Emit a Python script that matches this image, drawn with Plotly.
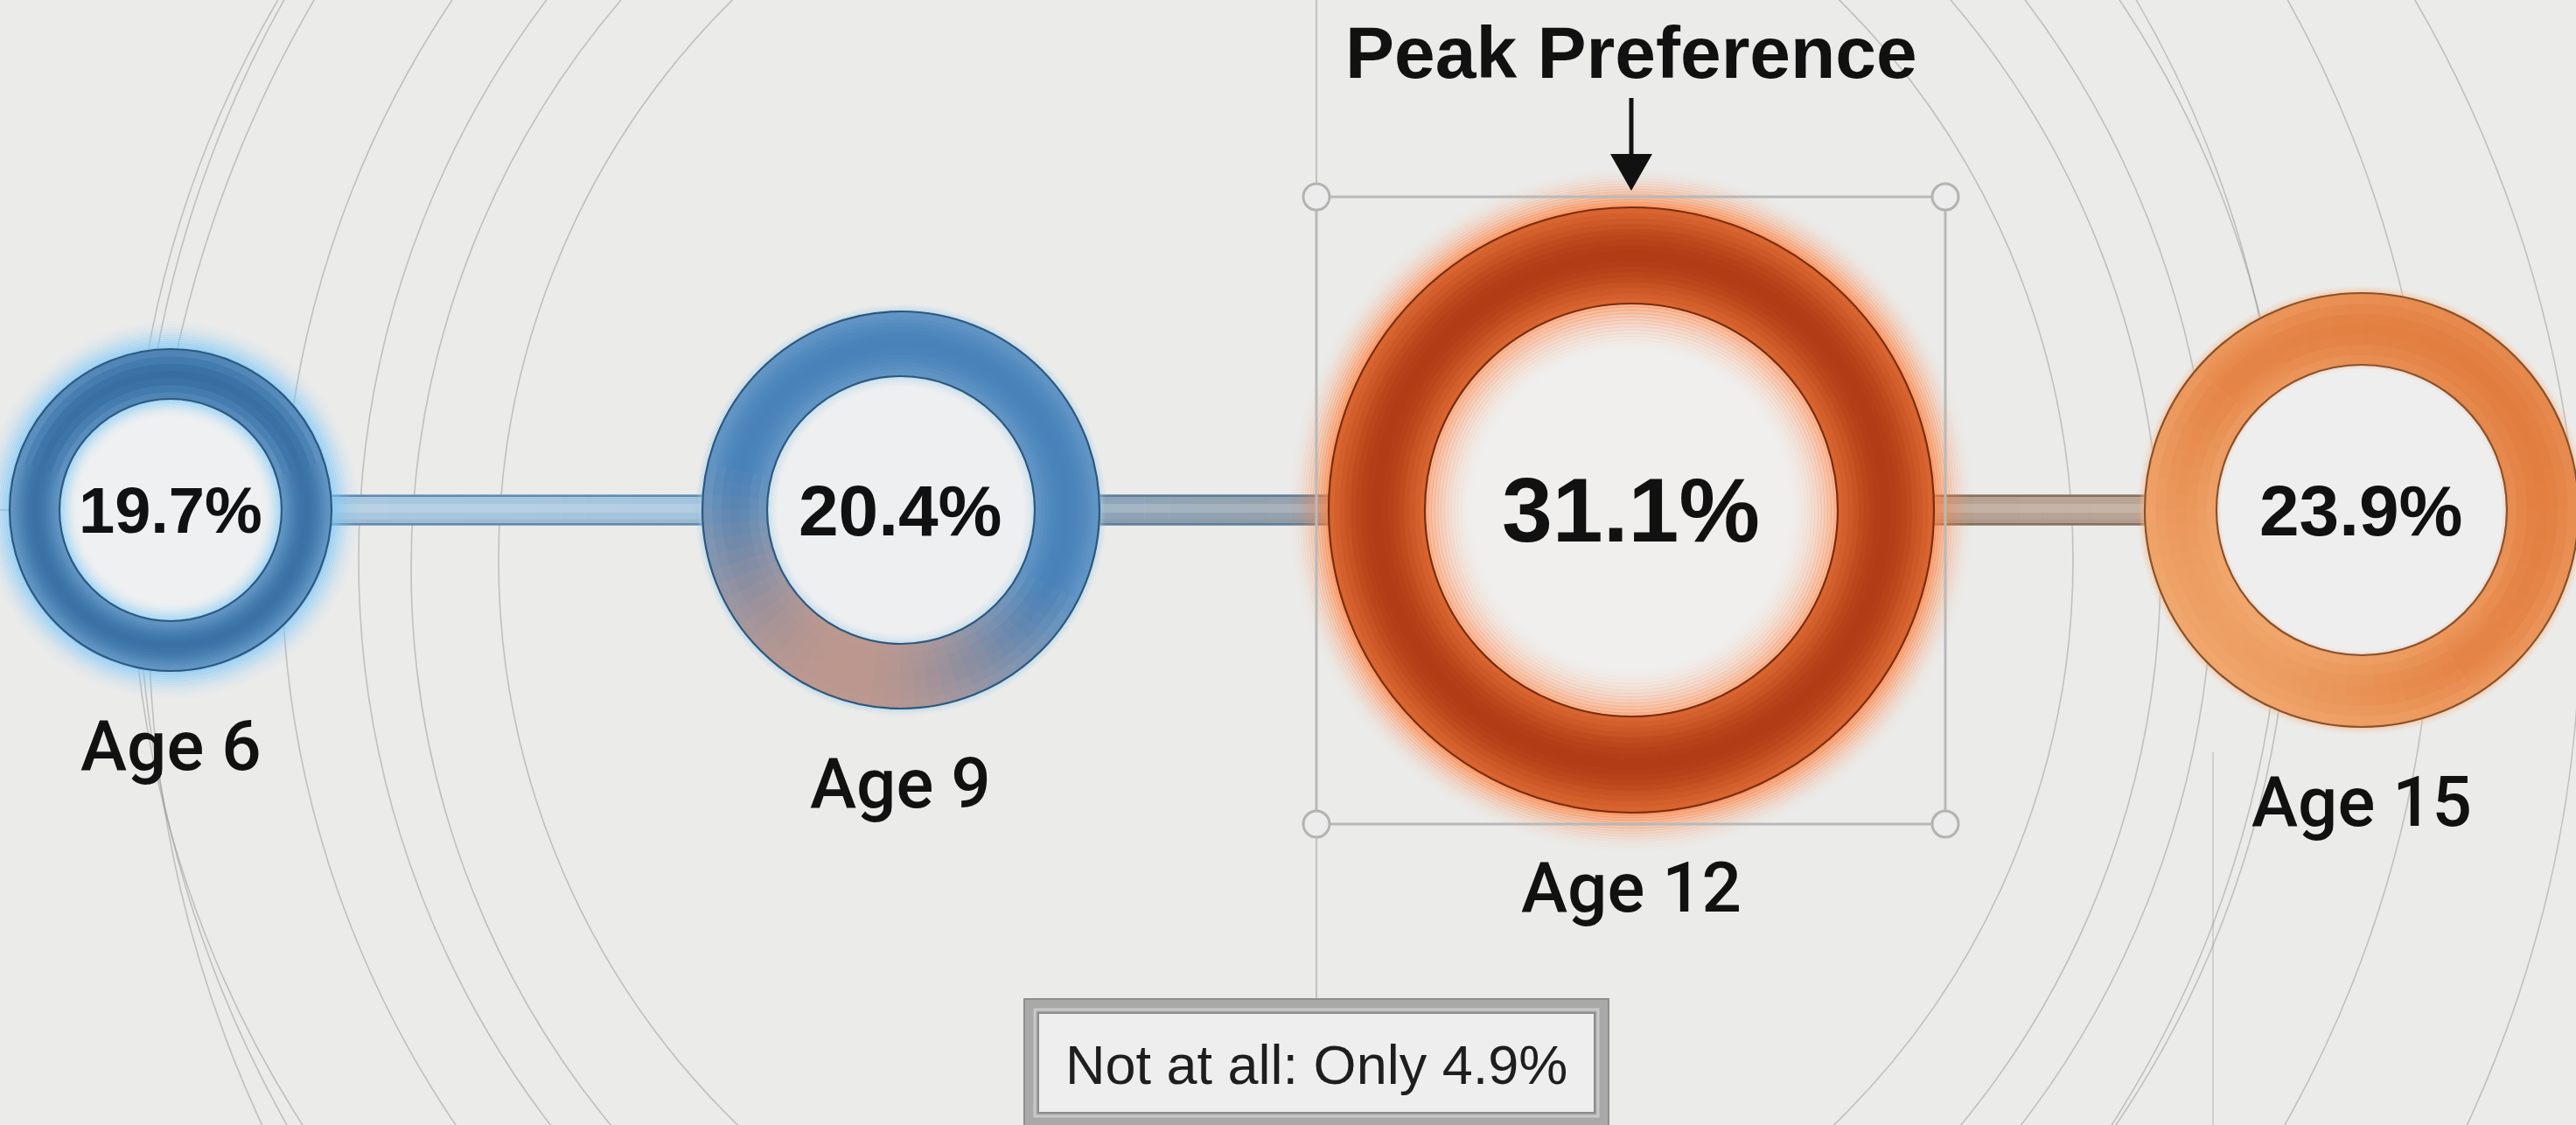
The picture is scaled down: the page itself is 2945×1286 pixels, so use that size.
import numpy as np
import plotly.graph_objects as go

# ---------------- data ----------------
ages = [6, 9, 12, 15]
age_labels = ["Age 6", "Age 9", "Age 12", "Age 15"]
shares = [19.7, 20.4, 31.1, 23.9]          # % preferring, by age
peak_text = "Peak Preference"
not_at_all_share = 4.9

# ---------------- canvas / scale ----------------
W, H = 2945, 1286
BG = "#ebebea"
PX_PER_YEAR = 278.33
ANCHOR_AGE, ANCHOR_PX = 6, 195
CENTER_PY = 583


def X(px):
    return ANCHOR_AGE + (px - ANCHOR_PX) / PX_PER_YEAR


def Y(py):
    return CENTER_PY - py


def age_px(a):
    return ANCHOR_PX + (a - ANCHOR_AGE) * PX_PER_YEAR


def mix(c1, c2, t):
    return tuple(c1[i] + (c2[i] - c1[i]) * t for i in range(3))


def rgb(c):
    return "rgb(%d,%d,%d)" % tuple(int(round(v)) for v in c)


def rgba(c, a):
    return "rgba(%d,%d,%d,%.3f)" % (int(round(c[0])), int(round(c[1])), int(round(c[2])), a)


# ---------------- styles ----------------
ring_style = [
    dict(R=184, r=127, edge=(100, 152, 198), mid=(58, 114, 166), outline="#2c5a80",
         glow=(120, 198, 248), glow_out=36, glow_in=22, ga_out=0.65, ga_in=0.5,
         hole="#eef0f1", pct_size=74),
    dict(R=227, r=153, edge=(98, 150, 198), mid=(72, 130, 185), outline="#2e587c",
         glow=(165, 210, 238), glow_out=10, glow_in=14, ga_out=0.35, ga_in=0.35,
         hole="#eeeff0", pct_size=82),
    dict(R=346, r=236, edge=(218, 102, 48), mid=(178, 60, 22), outline="#7a2c0e",
         glow=(255, 128, 62), glow_out=48, glow_in=60, ga_out=0.72, ga_in=0.55,
         hole="#f0efee", pct_size=104),
    dict(R=248, r=166, edge=(237, 152, 94), mid=(228, 132, 70), outline="#87532e",
         glow=(252, 190, 140), glow_out=10, glow_in=6, ga_out=0.4, ga_in=0.2,
         hole="#eeeeee", pct_size=82),
]
# angular tints: (colour, direction in degrees, strength, sharpness)
ring_tints = {
    0: [((45, 102, 156), 90, 0.3, 2.0)],
    1: [((194, 152, 140), 250, 0.95, 1.6)],
    3: [((243, 178, 120), 220, 0.6, 1.5), ((220, 112, 50), 40, 0.35, 1.5)],
}
bar_style = [
    dict(c0=(172, 202, 224), c1=(160, 193, 219), edge="#5f8aae"),
    dict(c0=(132, 168, 198), c1=(166, 156, 150), edge="#5e7d98"),
    dict(c0=(178, 156, 142), c1=(190, 168, 152), edge="#86705f"),
]
BAR_HALF = 17.5
TEXT_FONT = "Liberation Sans, Arial, Helvetica, sans-serif"
LABEL_FONT = "Roboto, Liberation Sans, Arial, sans-serif"
LINE_GREY = "rgba(140,140,140,0.45)"

fig = go.Figure()
shapes = []
annotations = []

# ---------------- background arcs ----------------
arcs = [(1470, 640, 1312), (1470, 640, 1148), (1470, 640, 1060), (1470, 650, 1000),
        (1470, 640, 900), (1560, 700, 1390), (1380, 620, 1230)]
for cx, cy, R in arcs:
    shapes.append(dict(type="circle", xref="x", yref="y", layer="below",
                       x0=X(cx - R), x1=X(cx + R), y0=Y(cy + R), y1=Y(cy - R),
                       line=dict(color=LINE_GREY, width=1.6), fillcolor="rgba(0,0,0,0)"))

peak_i = int(np.argmax(shares))
peak_px = age_px(ages[peak_i])
box_l, box_r, box_t, box_b = peak_px - 360, peak_px + 359, 225, 942

shapes.append(dict(type="line", xref="x", yref="y", layer="below",
                   x0=X(box_l), x1=X(box_l), y0=Y(0), y1=Y(1142),
                   line=dict(color="rgba(150,150,150,0.6)", width=1.6)))
shapes.append(dict(type="line", xref="x", yref="y", layer="below",
                   x0=X(2530), x1=X(2530), y0=Y(860), y1=Y(H),
                   line=dict(color="rgba(150,150,150,0.45)", width=1.4)))
shapes.append(dict(type="line", xref="x", yref="y", layer="below",
                   x0=X(0), x1=ages[0], y0=0, y1=0,
                   line=dict(color="rgba(140,140,140,0.6)", width=1.6)))

# ---------------- connector bars ----------------
nseg = 30
for k in range(len(ages) - 1):
    st = bar_style[k]
    xa, xb = ages[k], ages[k + 1]
    for j in range(nseg):
        t0, t1 = j / nseg, (j + 1) / nseg
        col = mix(st["c0"], st["c1"], (t0 + t1) / 2)
        shapes.append(dict(type="rect", xref="x", yref="y", layer="below",
                           x0=xa + (xb - xa) * t0, x1=xa + (xb - xa) * t1 + 0.002,
                           y0=-BAR_HALF, y1=BAR_HALF, fillcolor=rgb(col), line=dict(width=0)))
    shapes.append(dict(type="rect", xref="x", yref="y", layer="below",
                       x0=xa, x1=xb, y0=-3, y1=7,
                       fillcolor="rgba(255,255,255,0.18)", line=dict(width=0)))
    shapes.append(dict(type="rect", xref="x", yref="y", layer="below",
                       x0=xa, x1=xb, y0=-BAR_HALF, y1=-BAR_HALF + 7,
                       fillcolor="rgba(60,70,80,0.08)", line=dict(width=0)))
    for yy in (BAR_HALF - 1.2, -BAR_HALF + 1.2):
        shapes.append(dict(type="line", xref="x", yref="y", layer="below",
                           x0=xa, x1=xb, y0=yy, y1=yy,
                           line=dict(color=st["edge"], width=2.4)))


# ---------------- rings (markers) ----------------
def marker_ring(age, diameter, width, color):
    return go.Scatter(x=[age], y=[0], mode="markers", hoverinfo="skip", showlegend=False,
                      marker=dict(symbol="circle-open", size=diameter, color=color,
                                  line=dict(width=width)))


def radial_col(st, t):
    return mix(st["edge"], st["mid"], np.sin(np.pi * t) ** 1.3)


for a, v, st in zip(ages, shares, ring_style):
    R, r = st["R"], st["r"]
    n = 16
    step = st["glow_out"] / n
    for i in range(n):
        rad = R + (i + 0.5) * step
        al = st["ga_out"] * (1 - (i + 0.5) / n) ** 2
        fig.add_trace(marker_ring(a, 2 * rad, step + 0.8, rgba(st["glow"], al)))
    fig.add_trace(go.Scatter(x=[a], y=[0], mode="markers", hoverinfo="skip", showlegend=False,
                             marker=dict(symbol="circle", size=2 * r + 2, color=st["hole"],
                                         line=dict(width=0))))
    step = st["glow_in"] / n
    for i in range(n):
        rad = r - (i + 0.5) * step
        al = st["ga_in"] * (1 - (i + 0.5) / n) ** 2
        fig.add_trace(marker_ring(a, 2 * rad, step + 0.8, rgba(st["glow"], al)))
    nb = 18
    T = R - r
    for j in range(nb):
        t = (j + 0.5) / nb
        rad = r + t * T
        fig.add_trace(marker_ring(a, 2 * rad, T / nb + 0.9, rgb(radial_col(st, t))))


# ---------------- angular tints: opaque cells (shapes above traces) ----------------
def cell_path(age, r_in, r_out, th0, th1, m=3):
    ths = np.linspace(th0, th1, m)
    pts = [(age + r_out * np.cos(t) / PX_PER_YEAR, r_out * np.sin(t)) for t in ths]
    pts += [(age + r_in * np.cos(t) / PX_PER_YEAR, r_in * np.sin(t)) for t in ths[::-1]]
    return "M " + " L ".join("%.5f,%.3f" % p for p in pts) + " Z"


nsec, nrad = 80, 7
for idx, tints in ring_tints.items():
    st = ring_style[idx]
    R, r = st["R"], st["r"]
    T = R - r
    for s in range(nsec):
        a0 = 2 * np.pi * s / nsec
        a1 = 2 * np.pi * (s + 1) / nsec
        amid = (a0 + a1) / 2
        ms = [max(0.0, np.cos(amid - np.deg2rad(d))) ** p * amax for (_, d, amax, p) in tints]
        if max(ms) < 0.03:
            continue
        for q in range(nrad):
            t0, t1 = q / nrad, (q + 1) / nrad
            col = radial_col(st, (t0 + t1) / 2)
            for (tc, _, _, _), mm in zip(tints, ms):
                col = mix(col, tc, mm)
            rin = r + t0 * T - (0.6 if q > 0 else 0)
            rout = r + t1 * T + (0.6 if q < nrad - 1 else 0)
            shapes.append(dict(type="path", xref="x", yref="y", layer="above",
                               path=cell_path(ages[idx], rin, rout, a0 - 0.005, a1 + 0.005),
                               fillcolor=rgb(col), line=dict(width=0)))

for a, st in zip(ages, ring_style):
    for rad in (st["R"], st["r"]):
        shapes.append(dict(type="circle", xref="x", yref="y", layer="above",
                           x0=a - rad / PX_PER_YEAR, x1=a + rad / PX_PER_YEAR, y0=-rad, y1=rad,
                           line=dict(color=st["outline"], width=2.2),
                           fillcolor="rgba(0,0,0,0)"))

# ---------------- peak selection box ----------------
shapes.append(dict(type="rect", xref="x", yref="y", layer="above",
                   x0=X(box_l), x1=X(box_r), y0=Y(box_b), y1=Y(box_t),
                   line=dict(color="#b9b9b9", width=3), fillcolor="rgba(0,0,0,0)"))
for cxp, cyp in ((box_l, box_t), (box_r, box_t), (box_l, box_b), (box_r, box_b)):
    rr = 15
    shapes.append(dict(type="circle", xref="x", yref="y", layer="above",
                       x0=X(cxp - rr), x1=X(cxp + rr), y0=Y(cyp + rr), y1=Y(cyp - rr),
                       line=dict(color="#b3b3b3", width=3), fillcolor="#ececec"))

shapes.append(dict(type="line", xref="x", yref="y", layer="above",
                   x0=X(peak_px), x1=X(peak_px), y0=Y(112), y1=Y(185),
                   line=dict(color="#111111", width=5)))
shapes.append(dict(type="path", xref="x", yref="y", layer="above",
                   path="M %.5f,%.2f L %.5f,%.2f L %.5f,%.2f Z" % (
                       X(peak_px - 24), Y(176), X(peak_px + 24), Y(176), X(peak_px), Y(218)),
                   fillcolor="#111111", line=dict(width=0)))

# ---------------- note box ----------------
note_cx = box_l
shapes.append(dict(type="rect", xref="x", yref="y", layer="above",
                   x0=X(note_cx - 334), x1=X(note_cx + 334), y0=Y(1310), y1=Y(1142),
                   fillcolor="#a9a9a9", line=dict(color="#8e8e8e", width=2)))
shapes.append(dict(type="rect", xref="x", yref="y", layer="above",
                   x0=X(note_cx - 322), x1=X(note_cx + 322), y0=Y(1276), y1=Y(1154),
                   fillcolor="rgba(0,0,0,0)", line=dict(color="#c9c9c9", width=3)))
shapes.append(dict(type="rect", xref="x", yref="y", layer="above",
                   x0=X(note_cx - 318), x1=X(note_cx + 318), y0=Y(1272), y1=Y(1158),
                   fillcolor="#eeeeee", line=dict(color="#8c8c8c", width=2)))

# ---------------- text ----------------
for a, v, lab, st in zip(ages, shares, age_labels, ring_style):
    annotations.append(dict(x=a, y=0, xref="x", yref="y", text="%.1f%%" % v, showarrow=False,
                            xanchor="center", yanchor="middle",
                            font=dict(family=TEXT_FONT, size=st["pct_size"], color="#111111",
                                      weight="bold")))
    annotations.append(dict(x=a, y=-(st["R"] + 86), xref="x", yref="y", text=lab,
                            showarrow=False, xanchor="center", yanchor="middle",
                            font=dict(family=LABEL_FONT, size=80, color="#111111", weight=500)))

annotations.append(dict(x=X(peak_px), y=Y(60), xref="x", yref="y", text=peak_text,
                        showarrow=False, xanchor="center", yanchor="middle",
                        font=dict(family=TEXT_FONT, size=84, color="#111111", weight="bold")))
annotations.append(dict(x=X(note_cx), y=Y(1217), xref="x", yref="y",
                        text="Not at all: Only %.1f%%" % not_at_all_share,
                        showarrow=False, xanchor="center", yanchor="middle",
                        font=dict(family=TEXT_FONT, size=63, color="#1e1e1e")))

fig.update_layout(
    width=W, height=H, margin=dict(l=0, r=0, t=0, b=0),
    paper_bgcolor=BG, plot_bgcolor=BG, showlegend=False,
    xaxis=dict(range=[X(0), X(W)], visible=False, fixedrange=True),
    yaxis=dict(range=[Y(H), Y(0)], visible=False, fixedrange=True),
    shapes=shapes, annotations=annotations,
)

fig.write_html("out.html", config={"displayModeBar": False},
               post_script="document.body.style.margin='0';document.body.style.overflow='hidden';")
